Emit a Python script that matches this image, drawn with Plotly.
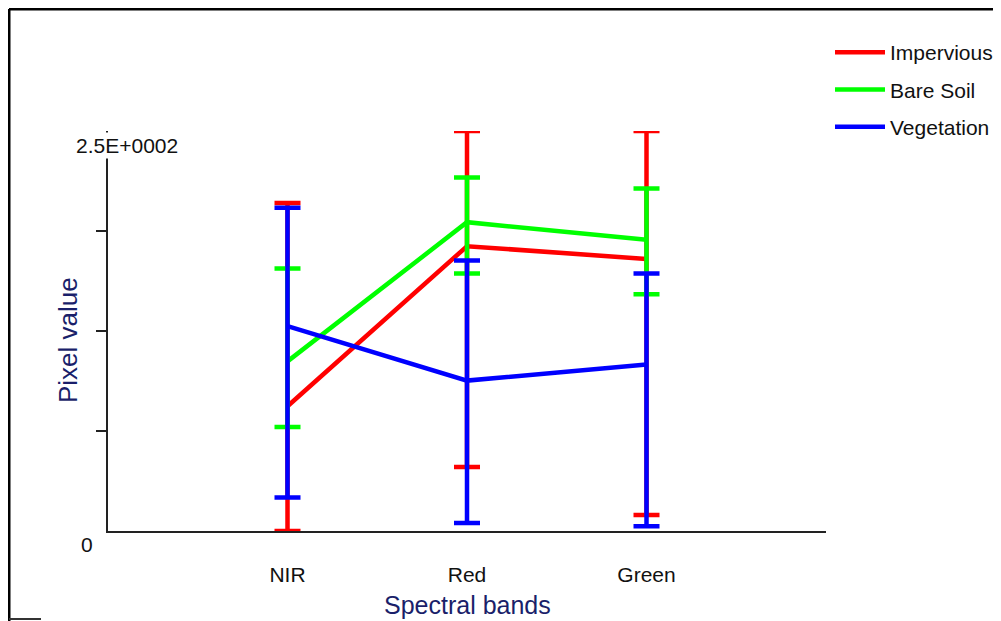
import plotly.graph_objects as go

bands = ["NIR", "Red", "Green"]
series_names = ["Impervious", "Bare Soil", "Vegetation"]
colors = ["#FF0000", "#00FF00", "#0000FF"]

impervious_mean = [78, 178, 170]
impervious_max = [205, 250, 250]
impervious_min = [0, 40, 10]

baresoil_mean = [106, 193, 182]
baresoil_max = [164, 221, 214]
baresoil_min = [65, 161, 148]

vegetation_mean = [128, 94, 104]
vegetation_max = [202, 169, 161]
vegetation_min = [21, 5, 3]

means = [impervious_mean, baresoil_mean, vegetation_mean]
maxs = [impervious_max, baresoil_max, vegetation_max]
mins = [impervious_min, baresoil_min, vegetation_min]

FONT = "Liberation Sans, Arial, sans-serif"
OFF = 8  # page body margin
W, H = 1001 - OFF, 621 - OFF
L, T = 108 - OFF, 131 - OFF
R = W - (826 - OFF)
B = H - (531 - OFF)
pw, ph = W - L - R, H - T - B


def px(x):
    return (x - OFF - L) / pw


def py(y):
    return (H - B - (y - OFF)) / ph


fig = go.Figure()
for name, col, m, hi, lo in zip(series_names, colors, means, maxs, mins):
    fig.add_trace(go.Scatter(
        x=bands, y=m, name=name, mode="lines",
        line=dict(color=col, width=4.5),
        legendgroup=name,
        cliponaxis=False,
        error_y=dict(type="data", symmetric=False,
                     array=[h - v for h, v in zip(hi, m)],
                     arrayminus=[v - l for v, l in zip(m, lo)],
                     color=col, thickness=4.5, width=13),
    ))

fig.update_layout(
    width=W, height=H,
    margin=dict(l=L, r=R, t=T, b=B, autoexpand=False),
    paper_bgcolor="white", plot_bgcolor="white",
    font=dict(family=FONT, size=21, color="#111"),
    showlegend=True,
    legend=dict(x=px(830), y=py(32), xanchor="left", yanchor="top",
                font=dict(size=21, color="#111"), tracegroupgap=7,
                itemwidth=50, bgcolor="rgba(0,0,0,0)"),
    xaxis=dict(range=[-1, 3], showline=True, linecolor="#222", linewidth=2,
               ticks="", showgrid=False, zeroline=False,
               ticklabelstandoff=24, tickfont=dict(size=21, color="#111")),
    yaxis=dict(range=[0, 250], showline=True, linecolor="#222", linewidth=2,
               ticks="outside", ticklen=10, tickwidth=2, tickcolor="#222",
               tickvals=[62.5, 125, 187.5], showticklabels=False,
               showgrid=False, zeroline=False),
    annotations=[
        dict(text="2.5E+0002", x=px(127), y=py(145), xref="paper", yref="paper",
             showarrow=False, font=dict(size=21, color="#111"), bgcolor="white",
             xanchor="center", yanchor="middle"),
        dict(text="0", x=px(87), y=py(544), xref="paper", yref="paper",
             showarrow=False, font=dict(size=21, color="#111"),
             xanchor="center", yanchor="middle"),
        dict(text="Pixel value", x=px(68), y=py(340), xref="paper", yref="paper",
             showarrow=False, textangle=-90, font=dict(size=26, color="#1a1f6a"),
             xanchor="center", yanchor="middle"),
        dict(text="Spectral bands", x=px(467), y=py(605), xref="paper", yref="paper",
             showarrow=False, font=dict(size=25, color="#1a1f6a"),
             xanchor="center", yanchor="middle"),
    ],
    shapes=[
        dict(type="line", xref="paper", yref="paper", x0=px(9), x1=px(1001),
             y0=py(9), y1=py(9), line=dict(color="#000", width=3)),
        dict(type="line", xref="paper", yref="paper", x0=px(9), x1=px(9),
             y0=py(9), y1=py(621), line=dict(color="#000", width=3)),
        dict(type="line", xref="paper", yref="paper", x0=px(9), x1=px(41),
             y0=py(619), y1=py(619), line=dict(color="#333", width=2)),
    ],
)

fig.write_html("out.html")
